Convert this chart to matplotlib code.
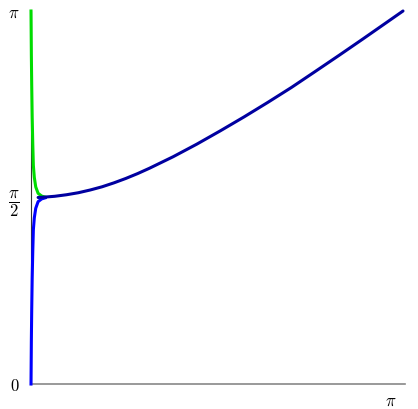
import numpy as np
import matplotlib.pyplot as plt
import matplotlib.transforms as mtransforms

plt.rcParams['mathtext.fontset'] = 'cm'

PI = np.pi

# ramas cerca de x = 0
branch_x = [0.0, 0.003, 0.006, 0.010, 0.015, 0.020, 0.028, 0.040, 0.060, 0.090, 0.120]
blue_y = [0.0, 0.37, 0.62, 0.89, 1.12, 1.30, 1.40, 1.48, 1.536, 1.559, 1.568]
green_y = [PI, 2.77, 2.52, 2.25, 2.02, 1.84, 1.74, 1.66, 1.606, 1.583, 1.574]

# curva principal
main_x = [0.06, 0.1, 0.2, 0.3, 0.4, 0.5, 0.6, 0.7, 0.8, 0.9, 1.0, 1.2, 1.4, 1.6,
          1.8, 2.0, 2.2, 2.4, 2.6, 2.8, 3.0, PI]
main_y = [1.571, 1.573, 1.581, 1.594, 1.611, 1.634, 1.661, 1.694, 1.731, 1.772, 1.817,
          1.914, 2.020, 2.133, 2.250, 2.372, 2.498, 2.632, 2.767, 2.904, 3.043, PI]

ytick_vals = [0, PI / 2, PI]
ytick_labels = [r'$0$', r'$\dfrac{\pi}{2}$', r'$\pi$']

fig = plt.figure(figsize=(4.18, 4.09), dpi=100)
ax = fig.add_axes([31 / 418, 25 / 409, 374 / 418, 373 / 409])

ax.plot(branch_x, green_y, color='#00dd00', lw=2.2, clip_on=False, zorder=3)
ax.plot(branch_x, blue_y, color='#0000ff', lw=2.2, clip_on=False, zorder=4)
ax.plot(main_x, main_y, color='#0000a0', lw=2.2, clip_on=False, zorder=5,
        solid_capstyle='round', solid_joinstyle='round')

ax.set_xlim(0, PI * 374 / 372)
ax.set_ylim(0, PI)

for s in ['top', 'right']:
    ax.spines[s].set_visible(False)
ax.spines['bottom'].set_color('#888888')
ax.spines['bottom'].set_linewidth(1.2)
ax.spines['left'].set_color('#333333')
ax.spines['left'].set_linewidth(0.8)

ax.set_yticks(ytick_vals, ytick_labels, fontsize=12)
ax.tick_params(axis='y', length=0, pad=8)
ax.set_yticks([PI / 2], minor=True)
ax.tick_params(axis='y', which='minor', direction='in', length=6, color='#888888', width=1)

ax.set_xticks([PI], [r'$\pi$'], fontsize=12)
ax.tick_params(axis='x', length=0, pad=6)
offset = mtransforms.ScaledTranslation(-12 / 100, 0, fig.dpi_scale_trans)
for lab in ax.get_xticklabels():
    lab.set_transform(lab.get_transform() + offset)

fig.savefig('out.png', dpi=100)
